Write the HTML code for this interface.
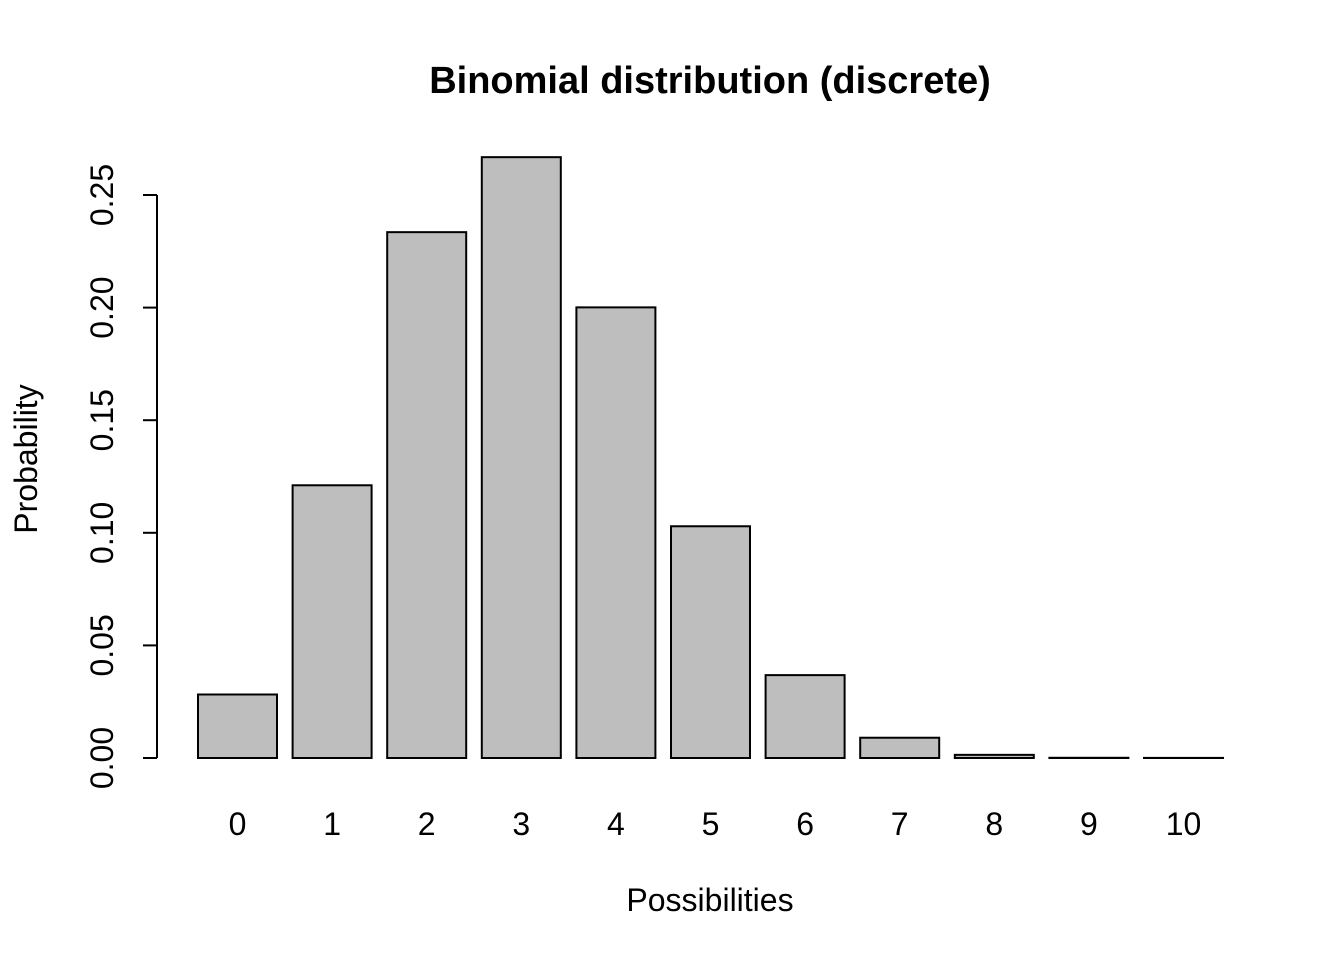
<!DOCTYPE html>
<html><head><meta charset="utf-8"><style>
html,body{margin:0;padding:0;background:#fff;}
svg{display:block;font-family:"Liberation Sans",Arial,sans-serif;}
</style></head><body>
<svg id="chart" width="1344" height="960">
<text x="710" y="93" text-anchor="middle" font-size="38" font-weight="bold">Binomial distribution (discrete)</text>
<text x="710" y="911" text-anchor="middle" font-size="32">Possibilities</text>
<text transform="translate(37,459) rotate(-90)" text-anchor="middle" font-size="32">Probability</text>
<g id="bars"></g><g id="yaxis"></g><g id="xlabels"></g>
</svg>
<script>
const categories = ["0","1","2","3","4","5","6","7","8","9","10"];
const probabilities = [0.0282, 0.1211, 0.2335, 0.2668, 0.2001, 0.1029, 0.0368, 0.0090, 0.0014, 0.0001, 0.0000];
const yTicks = [0, 0.05, 0.10, 0.15, 0.20, 0.25];
const yTickLabels = ["0.00","0.05","0.10","0.15","0.20","0.25"];
const NS="http://www.w3.org/2000/svg";
function y(v){return 758 - v*2252;}
function xc(i){return 237.5 + i*94.6;}
const bw=79;
const bars=document.getElementById('bars');
probabilities.forEach((p,i)=>{
  const r=document.createElementNS(NS,'rect');
  r.setAttribute('x',xc(i)-bw/2);r.setAttribute('y',Math.min(y(p),757.9));
  r.setAttribute('width',bw);r.setAttribute('height',Math.max(0.1,758-y(p)));
  r.setAttribute('fill','#bebebe');r.setAttribute('stroke','#000');r.setAttribute('stroke-width','2');
  
  
  bars.appendChild(r);
  const t=document.createElementNS(NS,'text');
  t.setAttribute('x',xc(i));t.setAttribute('y',835);t.setAttribute('text-anchor','middle');t.setAttribute('font-size','32');
  t.textContent=categories[i];
  
  
  document.getElementById('xlabels').appendChild(t);
});
const ya=document.getElementById('yaxis');
const ax=document.createElementNS(NS,'line');
ax.setAttribute('x1',157);ax.setAttribute('x2',157);ax.setAttribute('y1',y(yTicks[0]));ax.setAttribute('y2',y(yTicks[yTicks.length-1]));
ax.setAttribute('stroke','#000');ax.setAttribute('stroke-width','2');


ya.appendChild(ax);
yTicks.forEach((v,i)=>{
  const l=document.createElementNS(NS,'line');
  l.setAttribute('x1',143);l.setAttribute('x2',157);l.setAttribute('y1',y(v));l.setAttribute('y2',y(v));
  l.setAttribute('stroke','#000');l.setAttribute('stroke-width','2');
  
  
  ya.appendChild(l);
  const t=document.createElementNS(NS,'text');
  t.setAttribute('transform','translate(113,'+y(v)+') rotate(-90)');
  t.setAttribute('text-anchor','middle');t.setAttribute('font-size','32');
  t.textContent=yTickLabels[i];
  
  
  ya.appendChild(t);
});
</script>
</body></html>
